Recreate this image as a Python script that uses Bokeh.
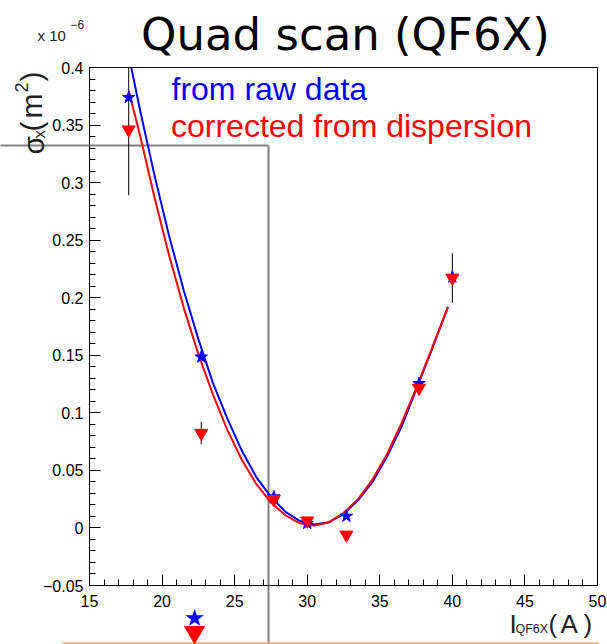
import math
import numpy as np
from bokeh.plotting import figure
from bokeh.models import Range1d, FixedTicker
from bokeh.embed import file_html
from bokeh.resources import INLINE
from bokeh.core.properties import value

# ---------------- data (sigma_x^2 in units of 1e-6 m^2) ----------------
current = [17.7, 22.7, 27.7, 30.0, 32.7, 37.7, 40.0]
sigma_raw = [0.374, 0.1485, 0.027, 0.004, 0.0102, 0.1254, 0.218]
sigma_raw_err = [0.085, 0.003, 0.002, 0.002, 0.002, 0.003, 0.003]
sigma_corr = [0.346, 0.0824, 0.025, 0.0063, -0.006, 0.1215, 0.2172]
sigma_corr_err = [0.003, 0.0098, 0.002, 0.002, 0.002, 0.003, 0.0215]

# fitted curves
fit_current = [17.7, 18.5, 19.5, 20.5, 21.5, 22.5, 23.5, 24.5, 25.5, 26.5, 27.5, 28.5,
               29.5, 30.5, 31.5, 32.5, 33.5, 34.5, 35.5, 36.5, 37.5, 38.5, 39.7]
fit_raw = [0.411, 0.362, 0.305, 0.253, 0.206, 0.164, 0.126, 0.095, 0.067, 0.044, 0.027, 0.014,
           0.006, 0.003, 0.005, 0.012, 0.024, 0.040, 0.062, 0.088, 0.120, 0.152, 0.192]
fit_corr = [0.380, 0.340, 0.286, 0.236, 0.191, 0.151, 0.116, 0.085, 0.059, 0.038, 0.022, 0.011,
            0.004, 0.002, 0.005, 0.013, 0.025, 0.042, 0.064, 0.091, 0.121, 0.153, 0.192]

x_ticks = [15, 20, 25, 30, 35, 40, 45, 50]
y_ticks = [-0.05, 0.0, 0.05, 0.1, 0.15, 0.2, 0.25, 0.3, 0.35, 0.4]
y_tick_labels = ["\u22120.05", "0", "0.05", "0.1", "0.15", "0.2", "0.25", "0.3", "0.35", "0.4"]

title_text = "Quad scan (QF6X)"
legend_raw = "from raw data"
legend_corr = "corrected from dispersion"

# ---------------- figure ----------------
W, H = 607, 644
FL, FR, FT, FB = 89, 597, 67, 585   # frame edges in page pixels

p = figure(width=W, height=H, x_range=Range1d(15, 50), y_range=Range1d(-0.05, 0.4),
           output_backend="svg", toolbar_location=None,
           min_border_left=FL, min_border_right=W - FR, min_border_top=FT, min_border_bottom=H - FB)
p.background_fill_color = "white"
p.border_fill_color = "white"
p.outline_line_color = "black"
p.outline_line_width = 1
p.xgrid.visible = False
p.ygrid.visible = False

# page-pixel coordinate system for decorations
p.extra_x_ranges = {"px": Range1d(FL, FR)}
p.extra_y_ranges = {"py": Range1d(FB, FT)}

tick_font = "Liberation Sans"
p.xaxis.ticker = FixedTicker(ticks=x_ticks, minor_ticks=list(range(15, 51)))
p.yaxis.ticker = FixedTicker(ticks=y_ticks, minor_ticks=[round(v, 2) for v in np.arange(-0.05, 0.401, 0.01)])
p.yaxis.major_label_overrides = dict(zip(y_ticks, y_tick_labels))
for ax in (p.xaxis, p.yaxis):
    ax.axis_line_color = "black"
    ax.axis_line_width = 1
    ax.major_tick_line_color = "black"
    ax.minor_tick_line_color = "black"
    ax.major_tick_in = 11
    ax.major_tick_out = 0
    ax.minor_tick_in = 6
    ax.minor_tick_out = 0
    ax.major_label_text_font = tick_font
    ax.major_label_text_font_size = "16px"
    ax.major_label_text_color = "black"
p.xaxis.major_label_standoff = 9
p.yaxis.major_label_standoff = 6

# grey box lines (inside frame part, under the data)
grey = "#808080"
p.segment(x0=[0, 268], y0=[145, 145], x1=[268, 268], y1=[145, 644],
          x_range_name="px", y_range_name="py", line_color=grey, line_width=2, level="underlay")

# error bars
def bars(ys, es):
    return [y - e for y, e in zip(ys, es)], [y + e for y, e in zip(ys, es)]

lo, hi = bars(sigma_raw, sigma_raw_err)
p.segment(x0=current, y0=lo, x1=current, y1=hi, line_color="black", line_width=1)
lo, hi = bars(sigma_corr, sigma_corr_err)
p.segment(x0=current, y0=lo, x1=current, y1=hi, line_color="black", line_width=1)

# fit curves
p.line(fit_current, fit_raw, line_color="#0000ff", line_width=2)
p.line(fit_current, fit_corr, line_color="#ff0000", line_width=2)

# markers
p.scatter(current, sigma_raw, marker="star", size=13, fill_color="#0000ff", line_color="#0000ff")
p.scatter(current, sigma_corr, marker="inverted_triangle", size=13, fill_color="#ff0000", line_color="#ff0000")

# decorations outside frame
p.segment(x0=[0, 268], y0=[145, FB], x1=[FL, 268], y1=[145, 644],
          x_range_name="px", y_range_name="py", line_color=grey, line_width=2, level="overlay")
p.segment(x0=[62], y0=[643], x1=[598], y1=[643], x_range_name="px", y_range_name="py",
          line_color="#f4a060", line_width=2, level="overlay")
# legend symbols below the axis
p.patch(x=[184, 204, 194], y=[626, 626, 643], x_range_name="px", y_range_name="py",
        fill_color="#ff0000", line_color="#ff0000", level="overlay")
p.text(x=[194], y=[617], text=["\u2605"], x_range_name="px", y_range_name="py",
       text_font=value("DejaVu Sans"), text_font_size=value("24px"), text_color="#0000ff",
       text_align="center", text_baseline="middle", level="overlay")


def gtext(x, y, text, size, color="#222222", font="Liberation Sans", align="left", angle=0.0):
    p.text(x=[x], y=[y], text=[text], x_range_name="px", y_range_name="py",
           text_font=value(font), text_font_size=value(f"{size}px"), text_color=color,
           text_align=align, text_baseline="alphabetic", angle=angle, level="overlay")


gtext(345, 34, title_text, 45, color="black", font="DejaVu Sans", align="center")
gtext(171, 88, legend_raw, 32, color="#0000ff")
gtext(170.5, 125.2, legend_corr, 32, color="#ff0000")

# exponent
gtext(37, 34.5, "x 10", 15)
gtext(70, 24.4, "\u22126", 12)

# y axis label: sigma_x (m^2), rotated
rot = math.pi / 2
gtext(33, 154, "\u03c3", 30, angle=rot)
gtext(39, 138, "x", 17, angle=rot)
gtext(31, 131, "(", 30, angle=rot)
gtext(31, 118, "m", 30, angle=rot)
gtext(21, 92, "2", 18, angle=rot)
gtext(31, 81, ")", 30, angle=rot)

# x axis label: I_QF6X (A)
gtext(509, 623, "I", 26)
gtext(515, 628.9, "QF6X", 12.5)
gtext(548, 623, "(", 26)
gtext(560, 623, "A", 26)
gtext(583, 623, ")", 26)

open("out.html", "w").write(file_html(p, INLINE))
